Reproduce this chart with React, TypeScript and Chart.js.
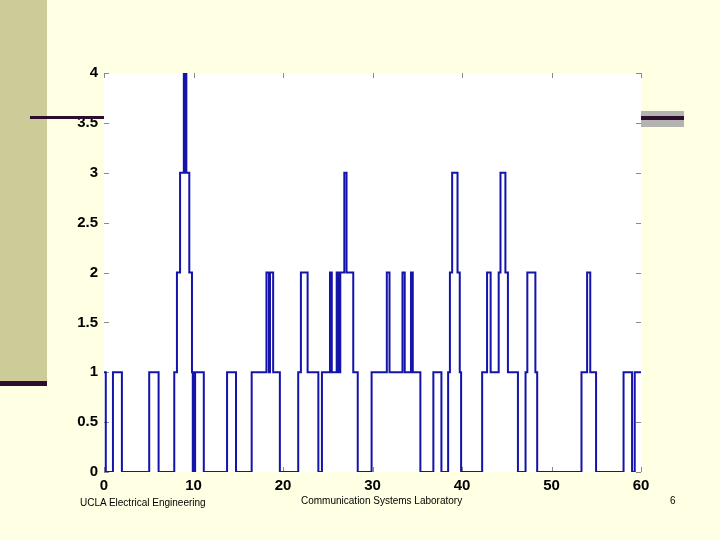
import React, { useEffect, useRef } from "react";
import { Chart, registerables } from "chart.js";

Chart.register(...registerables);

// Step change times (signal holds each level until the next time)
const stepTimes: number[] = [
  0, 0.2, 1.0, 2.0, 5.05, 6.1, 7.85, 8.15, 8.5, 8.92, 9.02, 9.08, 9.2, 9.53, 9.83,
  9.92, 10.0, 10.06, 10.18, 11.15, 13.75, 14.75, 16.5, 18.15, 18.42, 18.55, 18.9,
  19.65, 21.7, 22.0, 22.75, 23.95, 24.35, 25.25, 25.45, 26.0, 26.1, 26.2, 26.3,
  26.4, 26.85, 27.1, 27.85, 28.35, 29.9, 31.6, 31.9, 33.35, 33.6, 34.3, 34.5,
  35.35, 36.8, 37.7, 38.45, 38.65, 38.9, 39.5, 39.75, 39.9, 42.25, 42.8, 43.2,
  44.1, 44.3, 44.85, 45.13, 46.25, 47.1, 47.3, 48.2, 48.4, 53.35, 53.98, 54.33,
  54.98, 58.05, 59.0, 59.3, 60,
];
// Level at each step time
const stepLevels: number[] = [
  1, 0, 1, 0, 1, 0, 1, 2, 3, 4, 3, 4, 3, 2, 1,
  0, 1, 0, 1, 0, 1, 0, 1, 2, 1, 2, 1,
  0, 1, 2, 1, 0, 1, 2, 1, 2, 1, 2, 1,
  2, 3, 2, 1, 0, 1, 2, 1, 2, 1, 2, 1,
  0, 1, 0, 1, 2, 3, 2, 1, 0, 1, 2, 1,
  2, 3, 2, 1, 0, 1, 2, 1, 0, 1, 2, 1,
  0, 1, 0, 1, 1,
];

const xMin = 0;
const xMax = 60;
const xStep = 10;
const yMin = 0;
const yMax = 4;
const yStep = 0.5;

const footerLeft = "UCLA Electrical Engineering";
const footerCenter = "Communication Systems Laboratory";
const footerPage = "6";

const innerTicks = {
  id: "innerTicks",
  beforeDraw(chart: any) {
    const { ctx, chartArea: a } = chart;
    ctx.save();
    ctx.fillStyle = "#ffffff";
    ctx.fillRect(a.left, a.top, a.right - a.left, a.bottom - a.top);
    ctx.restore();
  },
  beforeDatasetsDraw(chart: any) {
    const { ctx, chartArea: a, scales } = chart;
    ctx.save();
    ctx.strokeStyle = "#8a8a8a";
    ctx.lineWidth = 1;
    const L = 5;
    for (const t of scales.x.ticks) {
      const px = Math.round(scales.x.getPixelForValue(t.value)) + 0.5;
      ctx.beginPath();
      ctx.moveTo(px, a.bottom);
      ctx.lineTo(px, a.bottom - L);
      ctx.moveTo(px, a.top);
      ctx.lineTo(px, a.top + L);
      ctx.stroke();
    }
    for (const t of scales.y.ticks) {
      const py = Math.round(scales.y.getPixelForValue(t.value)) + 0.5;
      ctx.beginPath();
      ctx.moveTo(a.left, py);
      ctx.lineTo(a.left + L, py);
      ctx.moveTo(a.right, py);
      ctx.lineTo(a.right - L, py);
      ctx.stroke();
    }
    ctx.restore();
  },
};

export default function App() {
  const ref = useRef<HTMLCanvasElement | null>(null);

  useEffect(() => {
    if (!ref.current) return;
    const data = stepTimes.map((t, i) => ({ x: t, y: stepLevels[i] }));
    const tickFont = { family: "'Liberation Sans', Arial, sans-serif", size: 15, weight: "bold" as const };
    const fmt = (v: any) => String(Number(v));
    const chart = new Chart(ref.current, {
      type: "line",
      data: {
        datasets: [
          {
            data,
            stepped: true,
            borderColor: "#1414aa",
            borderWidth: 2,
            pointRadius: 0,
            fill: false,
          },
        ],
      },
      options: {
        responsive: false,
        animation: false,
        devicePixelRatio: 1,
        layout: { padding: { left: 0, right: 79, top: 73, bottom: 0 } },
        plugins: { legend: { display: false }, tooltip: { enabled: false } },
        scales: {
          x: {
            type: "linear",
            min: xMin,
            max: xMax,
            grid: { display: false, drawTicks: false },
            border: { display: false },
            ticks: { stepSize: xStep, color: "#000", font: tickFont, padding: 5, maxRotation: 0, callback: fmt },
            afterFit: (s: any) => {
              s.height = 68;
            },
          },
          y: {
            type: "linear",
            min: yMin,
            max: yMax,
            grid: { display: false, drawTicks: false },
            border: { display: false },
            ticks: { stepSize: yStep, color: "#000", font: tickFont, padding: 6, callback: fmt },
            afterFit: (s: any) => {
              s.width = 104;
            },
          },
        },
      },
      plugins: [innerTicks],
    });
    return () => chart.destroy();
  }, []);

  const footerStyle: React.CSSProperties = {
    position: "absolute",
    fontFamily: "'Liberation Sans', Arial, sans-serif",
    fontSize: 10,
    color: "#000",
    lineHeight: "12px",
    whiteSpace: "nowrap",
  };

  return (
    <div
      style={{
        position: "fixed",
        left: 0,
        top: 0,
        width: 720,
        height: 540,
        background: "#ffffe3",
        overflow: "hidden",
      }}
    >
      <div style={{ position: "absolute", left: 0, top: 0, width: 47, height: 381, background: "#cccc99" }} />
      <canvas ref={ref} width={720} height={540} style={{ position: "absolute", left: 0, top: 0, display: "block" }} />
      <div style={{ position: "absolute", left: 30, top: 116, width: 74, height: 3, background: "#2e0c2e" }} />
      <div style={{ position: "absolute", left: 641, top: 111, width: 43, height: 16, background: "#b3b3b0" }} />
      <div style={{ position: "absolute", left: 641, top: 116, width: 43, height: 4, background: "#2e0c2e" }} />
      <div style={{ position: "absolute", left: 0, top: 381, width: 47, height: 5, background: "#2e0c2e" }} />
      <div style={{ ...footerStyle, left: 80, top: 497 }}>{footerLeft}</div>
      <div style={{ ...footerStyle, left: 301, top: 495 }}>{footerCenter}</div>
      <div style={{ ...footerStyle, left: 670, top: 495 }}>{footerPage}</div>
    </div>
  );
}
